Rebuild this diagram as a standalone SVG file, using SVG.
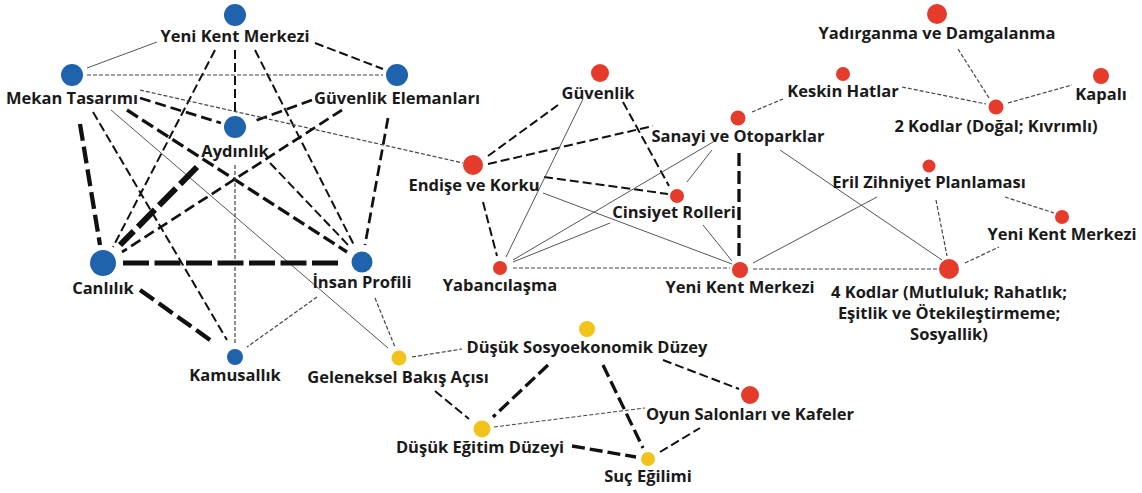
<svg xmlns="http://www.w3.org/2000/svg" width="1142" height="493" viewBox="0 0 1142 493">
<style>
text{font-family:"Open Sans","Liberation Sans",sans-serif;font-weight:700;font-size:16.5px;fill:#1a1a1a;text-anchor:middle}
.s1{stroke:#555;stroke-width:1;fill:none}
.d1{stroke:#444;stroke-width:1.2;stroke-dasharray:4 2;fill:none}
.d2{stroke:#111;stroke-width:2;stroke-dasharray:9 4;fill:none}
.d25{stroke:#111;stroke-width:2.7;stroke-dasharray:11 5;fill:none}
.d3{stroke:#111;stroke-width:3.3;stroke-dasharray:13 5;fill:none}
.d4{stroke:#111;stroke-width:4.3;stroke-dasharray:17 6;fill:none}
.d5{stroke:#111;stroke-width:4.8;stroke-dasharray:26 5.5;fill:none}
.d6{stroke:#111;stroke-width:6;stroke-dasharray:24 6;fill:none}
.b{fill:#1f63ad}
.r{fill:#e43b2b}
.y{fill:#f2c31b}
</style>
<rect width="1142" height="493" fill="#fff"/>
<g id="connectors">
<line class="s1" x1="157" y1="42" x2="87" y2="68"/>
<line class="d2" x1="315" y1="43" x2="383" y2="69"/>
<line class="d1" x1="87" y1="75" x2="383" y2="75"/>
<line class="d2" x1="235" y1="50" x2="235" y2="113"/>
<line class="d2" x1="215" y1="50" x2="113" y2="247"/>
<line class="d2" x1="255" y1="50" x2="355" y2="247"/>
<line class="d25" x1="140" y1="98" x2="221" y2="123"/>
<line class="d25" x1="312" y1="100" x2="252" y2="122"/>
<line class="d3" x1="127" y1="110" x2="347" y2="252"/>
<line class="d4" x1="80" y1="124" x2="100" y2="245"/>
<line class="d2" x1="93" y1="112" x2="227" y2="340"/>
<line class="s1" x1="111" y1="110" x2="388" y2="348"/>
<line class="d1" x1="140" y1="90" x2="463" y2="163"/>
<line class="d25" x1="342" y1="110" x2="122" y2="252"/>
<line class="d25" x1="388" y1="118" x2="365" y2="245"/>
<line class="d6" x1="197" y1="167" x2="120" y2="245"/>
<line class="d2" x1="270" y1="163" x2="350" y2="247"/>
<line class="d1" x1="235" y1="165" x2="235" y2="345"/>
<line class="d5" x1="123" y1="263" x2="340" y2="263"/>
<line class="d4" x1="140" y1="290" x2="213" y2="342"/>
<line class="d1" x1="317" y1="297" x2="247" y2="347"/>
<line class="d1" x1="375" y1="298" x2="395" y2="347"/>
<line class="d2" x1="488" y1="156" x2="558" y2="105"/>
<line class="d2" x1="488" y1="164" x2="653" y2="126"/>
<line class="d2" x1="544" y1="177" x2="668" y2="194"/>
<line class="d2" x1="483" y1="202" x2="497" y2="256"/>
<line class="s1" x1="543" y1="193" x2="732" y2="264"/>
<line class="d2" x1="623" y1="102" x2="669" y2="186"/>
<line class="s1" x1="583" y1="99" x2="506" y2="257"/>
<line class="s1" x1="513" y1="260" x2="713" y2="142"/>
<line class="s1" x1="513" y1="262" x2="610" y2="223"/>
<line class="s1" x1="687" y1="182" x2="712" y2="150"/>
<line class="d3" x1="739" y1="153" x2="739" y2="259"/>
<line class="d1" x1="513" y1="268" x2="730" y2="268"/>
<line class="s1" x1="703" y1="225" x2="732" y2="261"/>
<line class="s1" x1="753" y1="263" x2="877" y2="197"/>
<line class="d1" x1="753" y1="269" x2="938" y2="269"/>
<line class="s1" x1="780" y1="150" x2="942" y2="260"/>
<line class="d1" x1="936" y1="200" x2="947" y2="256"/>
<line class="d1" x1="1005" y1="197" x2="1054" y2="213"/>
<line class="d1" x1="965" y1="263" x2="999" y2="247"/>
<line class="d1" x1="752" y1="112" x2="783" y2="99"/>
<line class="d1" x1="902" y1="87" x2="986" y2="104"/>
<line class="d1" x1="958" y1="49" x2="989" y2="98"/>
<line class="d1" x1="1008" y1="103" x2="1072" y2="85"/>
<line class="d1" x1="412" y1="357" x2="462" y2="349"/>
<line class="d2" x1="435" y1="391" x2="469" y2="419"/>
<line class="d3" x1="548" y1="365" x2="493" y2="417"/>
<line class="d3" x1="603" y1="365" x2="643" y2="448"/>
<line class="d2" x1="663" y1="360" x2="739" y2="389"/>
<line class="d1" x1="494" y1="427" x2="645" y2="408"/>
<line class="d3" x1="572" y1="446" x2="636" y2="457"/>
<line class="d2" x1="660" y1="452" x2="700" y2="428"/>
</g>
<g id="n-ykm-blue"><circle class="b" cx="235" cy="15" r="11"/><text x="235" y="42">Yeni Kent Merkezi</text></g>
<g id="n-mekan"><circle class="b" cx="72" cy="75" r="11"/><text x="72" y="104">Mekan Tasarımı</text></g>
<g id="n-guvel"><circle class="b" cx="397" cy="75" r="11"/><text x="397" y="104">Güvenlik Elemanları</text></g>
<g id="n-aydinlik"><circle class="b" cx="235" cy="127" r="11"/><text x="235" y="157">Aydınlık</text></g>
<g id="n-canlilik"><circle class="b" cx="103" cy="263" r="13"/><text x="103" y="294">Canlılık</text></g>
<g id="n-insan"><circle class="b" cx="362" cy="262" r="10.5"/><text x="362" y="288">İnsan Profili</text></g>
<g id="n-kamusallik"><circle class="b" cx="235" cy="357" r="8"/><text x="235" y="381">Kamusallık</text></g>
<g id="n-endise"><circle class="r" cx="473" cy="165" r="10"/><text x="474" y="191">Endişe ve Korku</text></g>
<g id="n-guvenlik"><circle class="r" cx="600" cy="73" r="9"/><text x="598" y="99">Güvenlik</text></g>
<g id="n-sanayi"><circle class="r" cx="738" cy="118" r="7.5"/><text x="738" y="142">Sanayi ve Otoparklar</text></g>
<g id="n-keskin"><circle class="r" cx="843" cy="74" r="7"/><text x="843" y="97">Keskin Hatlar</text></g>
<g id="n-yadirganma"><circle class="r" cx="937" cy="14" r="10"/><text x="937" y="39">Yadırganma ve Damgalanma</text></g>
<g id="n-kapali"><circle class="r" cx="1101" cy="76" r="8"/><text x="1101" y="100">Kapalı</text></g>
<g id="n-2kodlar"><circle class="r" cx="996" cy="107" r="7.5"/><text x="996" y="132">2 Kodlar (Doğal; Kıvrımlı)</text></g>
<g id="n-eril"><circle class="r" cx="929" cy="166" r="6.5"/><text x="929" y="188">Eril Zihniyet Planlaması</text></g>
<g id="n-cinsiyet"><circle class="r" cx="677" cy="196" r="7"/><text x="674" y="218">Cinsiyet Rolleri</text></g>
<g id="n-ykm-right"><circle class="r" cx="1062" cy="217" r="7"/><text x="1062" y="240">Yeni Kent Merkezi</text></g>
<g id="n-yabancilasma"><circle class="r" cx="500" cy="268" r="7"/><text x="500" y="291">Yabancılaşma</text></g>
<g id="n-ykm-mid"><circle class="r" cx="740" cy="270" r="8"/><text x="740" y="293">Yeni Kent Merkezi</text></g>
<g id="n-4kodlar"><circle class="r" cx="949" cy="269" r="10"/><text x="949" y="298">4 Kodlar (Mutluluk; Rahatlık;</text><text x="949" y="319">Eşitlik ve Ötekileştirmeme;</text><text x="949" y="340">Sosyallik)</text></g>
<g id="n-oyun"><circle class="r" cx="750" cy="395" r="9"/><text x="750" y="420">Oyun Salonları ve Kafeler</text></g>
<g id="n-sosyo"><circle class="y" cx="587" cy="329" r="8"/><text x="587" y="353">Düşük Sosyoekonomik Düzey</text></g>
<g id="n-geleneksel"><circle class="y" cx="399" cy="358" r="7.5"/><text x="398" y="383">Geleneksel Bakış Açısı</text></g>
<g id="n-egitim"><circle class="y" cx="482" cy="429" r="8.5"/><text x="480" y="453">Düşük Eğitim Düzeyi</text></g>
<g id="n-suc"><circle class="y" cx="648" cy="459" r="7"/><text x="648" y="482">Suç Eğilimi</text></g>
</svg>
